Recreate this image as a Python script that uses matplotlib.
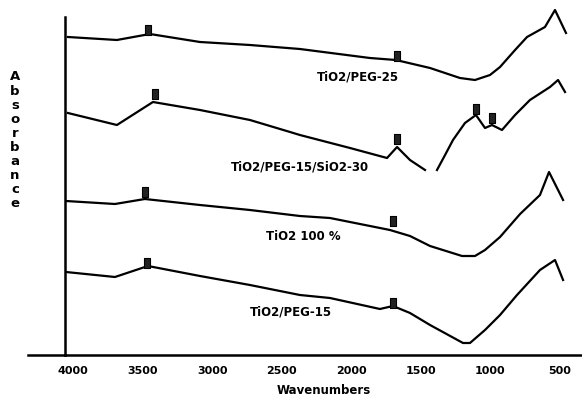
import numpy as np
import matplotlib
matplotlib.use("Agg")
import matplotlib.pyplot as plt

plt.rcParams['font.family'] = ['DejaVu Sans']

# FTIR spectra, wavenumber (cm-1) vs absorbance (a.u., stacked offsets)
peg25_wn = [4036, 3684, 3447, 3087, 2728, 2369, 1866, 1679, 1434, 1219, 1111, 1003, 931, 823, 737, 608, 536, 457]
peg25_abs = [3.18, 3.15, 3.21, 3.13, 3.10, 3.06, 2.97, 2.95, 2.87, 2.77, 2.75, 2.80, 2.88, 3.05, 3.18, 3.28, 3.45, 3.22]

sio2_wn = [4036, 3684, 3425, 3087, 2728, 2440, 2369, 2009, 1743, 1671, 1578, 1470, 1427, 1384, 1326, 1269,
           1183, 1104, 1039, 989, 917, 823, 716, 572, 514, 464]
sio2_abs = [2.42, 2.30, 2.53, 2.45, 2.35, 2.23, 2.20, 2.07, 1.97, 2.08, 1.95, 1.85, np.nan, 1.85, 2.00, 2.15,
            2.32, 2.40, 2.27, 2.30, 2.25, 2.40, 2.55, 2.68, 2.75, 2.63]

tio2_wn = [4050, 3698, 3483, 3087, 2728, 2369, 2153, 1722, 1578, 1434, 1204, 1111, 1039, 931, 787, 644, 579, 478]
tio2_abs = [1.54, 1.51, 1.56, 1.50, 1.45, 1.39, 1.37, 1.25, 1.19, 1.09, 0.99, 0.99, 1.05, 1.18, 1.41, 1.60, 1.83, 1.55]

peg15_wn = [4050, 3698, 3461, 3087, 2728, 2369, 2153, 1794, 1700, 1578, 1434, 1197, 1147, 1039, 931, 809, 644, 536, 478]
peg15_abs = [0.83, 0.78, 0.89, 0.79, 0.70, 0.60, 0.57, 0.46, 0.49, 0.42, 0.30, 0.12, 0.12, 0.25, 0.40, 0.60, 0.85, 0.95, 0.75]

# peak tags (wavenumber, absorbance)
tag_wn = [3461, 1671, 3411, 1671, 1104, 989, 3483, 1700, 3468, 1700]
tag_abs = [3.25, 2.99, 2.61, 2.16, 2.46, 2.37, 1.63, 1.34, 0.92, 0.52]

labels = ['TiO2/PEG-25', 'TiO2/PEG-15/SiO2-30', 'TiO2 100 %', 'TiO2/PEG-15']
label_wn = [1952, 2369, 2347, 2433]
label_abs = [2.78, 1.88, 1.18, 0.43]

xticks = [4000, 3500, 3000, 2500, 2000, 1500, 1000, 500]

fig = plt.figure(figsize=(5.82, 3.99), dpi=100)
ax = fig.add_axes([65 / 582, 44 / 399, 517 / 582, 355 / 399])

for wn, ab in [(peg25_wn, peg25_abs), (sio2_wn, sio2_abs), (tio2_wn, tio2_abs), (peg15_wn, peg15_abs)]:
    ax.plot(wn, ab, color='black', lw=1.6, solid_joinstyle='round')

box = [(-0.3, -0.5), (0.3, -0.5), (0.3, 0.5), (-0.3, 0.5), (-0.3, -0.5)]
ax.scatter(tag_wn, tag_abs, marker=box, s=55, c='#222222', edgecolors='black', linewidths=0.8, zorder=3)

for txt, x, y in zip(labels, label_wn, label_abs):
    ax.text(x, y, txt, ha='center', va='center', fontsize=8.5, fontweight='bold')

ax.set_xlim(4057, 342)
ax.set_ylim(0, 3.55)
ax.set_xticks(xticks)
ax.set_xticklabels([str(t) for t in xticks], fontsize=8, fontweight='bold')
ax.tick_params(axis='x', length=0, pad=8)
ax.set_yticks([])
ax.set_xlabel('Wavenumbers', fontsize=8.5, fontweight='bold', labelpad=6)

ax.spines['top'].set_visible(False)
ax.spines['right'].set_visible(False)
ax.spines['left'].set_linewidth(1.8)
ax.spines['bottom'].set_linewidth(1.8)
ax.spines['left'].set_bounds(0, 3.38)
# baseline runs a little past the left axis
ax.plot([-0.072, 0], [0, 0], transform=ax.transAxes, color='black', lw=1.8, clip_on=False)

# stacked vertical axis title
for i, ch in enumerate('Absorbance'):
    fig.text(15 / 582, 1 - (77 + i * 14.1) / 399, ch, ha='center', va='center',
             fontsize=9.5, fontweight='bold')

fig.savefig('out.png', dpi=100)
